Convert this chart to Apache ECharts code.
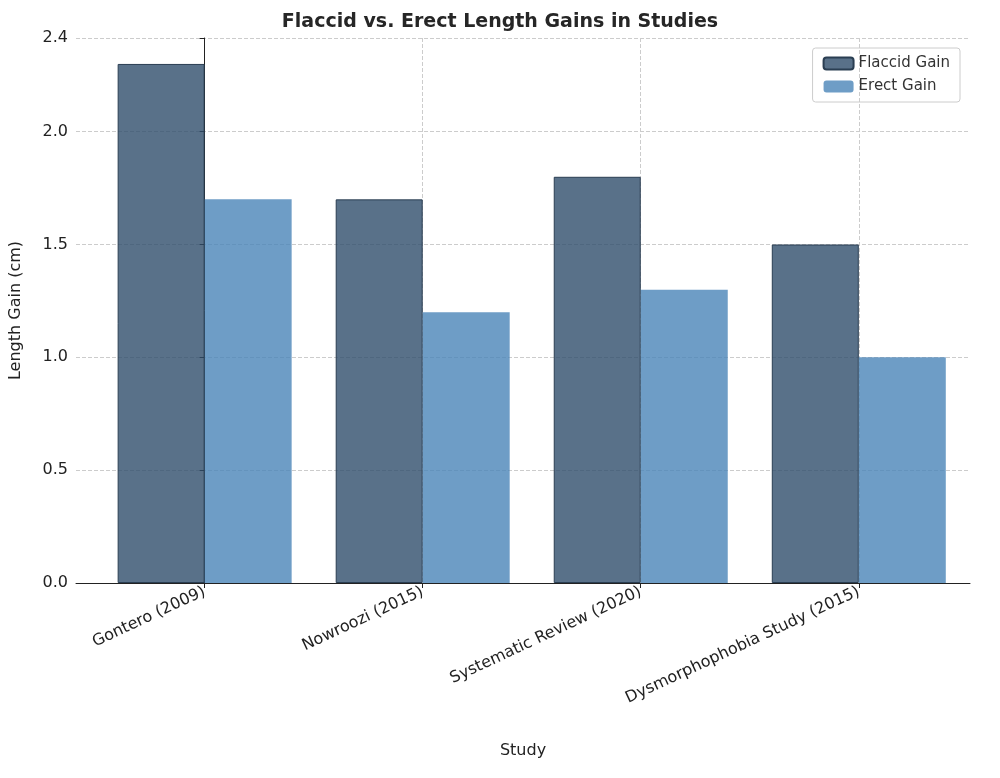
<!DOCTYPE html>
<html>
<head>
<meta charset="utf-8">
<script src="https://cdn.jsdelivr.net/npm/echarts@6/dist/echarts.min.js"></script>
<style>html,body{margin:0;padding:0;background:#fff}#chart{width:1000px;height:778px}</style>
</head>
<body>
<div id="chart"></div>
<script>
// 数据
const studies = ['Gontero (2009)', 'Nowroozi (2015)', 'Systematic Review (2020)', 'Dysmorphophobia Study (2015)'];
const flaccidGain = [2.3, 1.7, 1.8, 1.5];
const erectGain = [1.7, 1.2, 1.3, 1.0];
const positions = [0, 1, 2, 3];

(function () {
  let myChart = echarts.init(document.getElementById('chart'));
  const font = 'DejaVu Sans';
  let option = {
    animation: false,
    textStyle: { fontFamily: font },
    title: {
      text: 'Flaccid vs. Erect Length Gains in Studies',
      left: 'center', top: 8,
      textStyle: { fontSize: 19, fontWeight: 'bold', color: '#262626', fontFamily: font }
    },
    legend: {
      right: 40, top: 48, orient: 'vertical', itemGap: 8,
      itemWidth: 30, itemHeight: 12,
      borderColor: '#cccccc', borderWidth: 1, borderRadius: 3, padding: [8, 10],
      textStyle: { fontSize: 15, color: '#333' },
      data: ['Flaccid Gain', 'Erect Gain']
    },
    grid: { left: 75, right: 30, top: 38, bottom: 195 },
    xAxis: {
      type: 'value', min: -0.59, max: 3.51,
      name: 'Study', nameLocation: 'middle', nameGap: 160,
      nameTextStyle: { fontSize: 16, color: '#222' },
      axisLine: { show: true, onZero: false, lineStyle: { color: '#222' } },
      axisTick: { show: true, customValues: positions, lineStyle: { color: '#222' } },
      axisLabel: {
        customValues: positions, rotate: 25, fontSize: 16, color: '#222',
        formatter: v => studies[Math.round(v)]
      },
      splitLine: { show: true, lineStyle: { color: '#cccccc', type: 'dashed' } }
    },
    yAxis: {
      type: 'value', min: 0, max: 2.415, interval: 0.5,
      name: 'Length Gain (cm)', nameLocation: 'middle', nameGap: 52,
      nameTextStyle: { fontSize: 16, color: '#222' },
      axisLine: { show: true, lineStyle: { color: '#222' } },
      axisTick: { show: true, lineStyle: { color: '#222' } },
      axisLabel: { fontSize: 16, color: '#222', formatter: v => v.toFixed(1) },
      splitLine: { show: true, lineStyle: { color: '#cccccc', type: 'dashed' } }
    },
    series: [
      {
        name: 'Flaccid Gain', type: 'bar', barWidth: 87, barGap: '0%',
        data: positions.map((p, i) => [p, flaccidGain[i]]),
        itemStyle: { color: 'rgba(47,77,107,0.8)', borderColor: '#2a3e52', borderWidth: 1 }
      },
      {
        name: 'Erect Gain', type: 'bar', barWidth: 87, barGap: '0%',
        data: positions.map((p, i) => [p, erectGain[i]]),
        itemStyle: { color: 'rgba(74,133,184,0.8)' }
      }
    ]
  };
  myChart.setOption(option);
})();
</script>
</body>
</html>
